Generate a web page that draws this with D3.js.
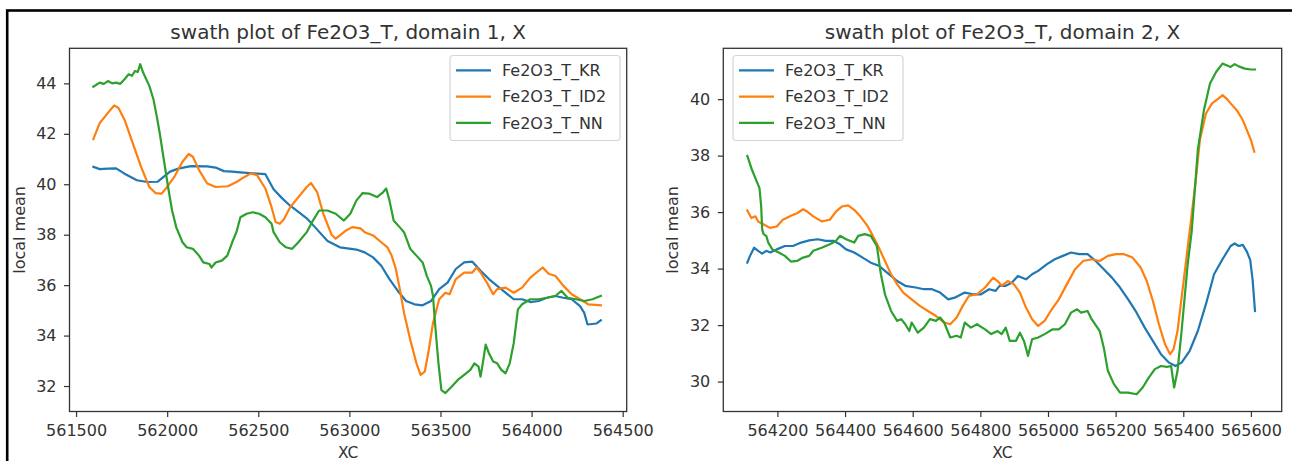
<!DOCTYPE html>
<html>
<head>
<meta charset="utf-8">
<script src="https://cdn.jsdelivr.net/npm/d3@7"></script>
<style>
  body { margin: 0; background: #fff; }
  svg text { font-family: "DejaVu Sans", sans-serif; }
</style>
</head>
<body>
<svg id="chart" width="1292" height="461"></svg>
<script>
const seriesNames = ["Fe2O3_T_KR", "Fe2O3_T_ID2", "Fe2O3_T_NN"];
const seriesColors = ["#1f77b4", "#ff7f0e", "#2ca02c"];
const titles = ["swath plot of Fe2O3_T, domain 1, X", "swath plot of Fe2O3_T, domain 2, X"];

// domain 1: [XC, local mean]
const kr1 = [[561595,40.69],[561630,40.6],[561675,40.62],[561720,40.63],[561766,40.42],[561834,40.16],[561891,40.09],[561948,40.1],[562016,40.5],[562061,40.62],[562130,40.72],[562220,40.71],[562266,40.66],[562311,40.52],[562357,40.5],[562402,40.47],[562470,40.43],[562539,40.4],[562584,39.8],[562630,39.45],[562675,39.15],[562720,38.9],[562766,38.65],[562811,38.3],[562880,37.75],[562948,37.5],[563039,37.41],[563084,37.3],[563130,37.1],[563175,36.77],[563220,36.24],[563266,35.77],[563311,35.37],[563357,35.24],[563402,35.2],[563448,35.37],[563493,35.84],[563539,36.1],[563584,36.64],[563630,36.9],[563675,36.93],[563720,36.57],[563766,36.24],[563811,35.97],[563857,35.7],[563902,35.44],[563948,35.44],[563993,35.33],[564039,35.37],[564084,35.5],[564130,35.57],[564175,35.5],[564220,35.44],[564266,35.17],[564289,34.9],[564307,34.44],[564357,34.48],[564380,34.61]];
const id1 = [[561595,41.79],[561630,42.43],[561675,42.83],[561709,43.12],[561732,43.03],[561766,42.56],[561811,41.63],[561857,40.69],[561902,39.89],[561936,39.65],[561970,39.63],[561993,39.83],[562039,40.29],[562084,40.89],[562118,41.2],[562141,41.09],[562175,40.56],[562220,40.03],[562266,39.89],[562334,39.92],[562380,40.09],[562425,40.29],[562459,40.43],[562493,40.36],[562539,39.83],[562573,39.09],[562595,38.5],[562618,38.43],[562640,38.6],[562675,39.09],[562720,39.49],[562766,39.89],[562789,40.05],[562823,39.69],[562857,38.83],[562902,38.0],[562925,37.84],[562948,37.97],[562982,38.17],[563016,38.3],[563061,38.25],[563084,38.1],[563130,37.97],[563175,37.7],[563209,37.5],[563232,37.17],[563255,36.64],[563277,35.84],[563300,34.9],[563334,33.84],[563368,32.9],[563391,32.44],[563414,32.57],[563436,33.44],[563459,34.5],[563493,35.44],[563527,35.7],[563550,35.64],[563584,36.24],[563630,36.5],[563675,36.5],[563698,36.7],[563720,36.5],[563755,36.1],[563789,35.64],[563811,35.84],[563857,35.9],[563902,35.7],[563948,35.9],[563993,36.3],[564039,36.57],[564061,36.7],[564095,36.44],[564130,36.37],[564175,35.97],[564220,35.64],[564266,35.44],[564311,35.24],[564380,35.2]];
const nn1 = [[561595,43.87],[561630,44.03],[561652,43.98],[561675,44.09],[561698,44.0],[561720,44.03],[561743,43.98],[561766,44.16],[561789,44.36],[561807,44.3],[561823,44.49],[561839,44.45],[561852,44.76],[561868,44.43],[561902,43.9],[561925,43.36],[561943,42.69],[561959,42.03],[561982,40.96],[562005,39.89],[562027,38.96],[562050,38.29],[562084,37.7],[562107,37.5],[562141,37.44],[562175,37.17],[562198,36.9],[562232,36.84],[562243,36.7],[562266,36.9],[562300,36.97],[562330,37.17],[562357,37.7],[562380,38.1],[562402,38.69],[562436,38.83],[562470,38.89],[562505,38.83],[562539,38.69],[562573,38.43],[562584,38.1],[562618,37.7],[562652,37.5],[562686,37.44],[562720,37.7],[562766,38.1],[562800,38.56],[562834,38.96],[562880,38.96],[562925,38.83],[562970,38.56],[563005,38.83],[563039,39.36],[563073,39.65],[563107,39.63],[563152,39.49],[563186,39.69],[563202,39.83],[563220,39.36],[563243,38.56],[563277,38.29],[563300,38.1],[563334,37.44],[563368,37.17],[563402,36.9],[563425,36.37],[563448,35.97],[563459,35.57],[563470,34.5],[563489,32.9],[563505,31.84],[563527,31.72],[563561,31.97],[563595,32.24],[563630,32.44],[563664,32.64],[563686,32.9],[563709,32.77],[563720,32.37],[563732,32.9],[563748,33.64],[563766,33.3],[563789,32.97],[563811,32.9],[563834,32.64],[563857,32.5],[563880,32.9],[563902,33.7],[563925,35.04],[563948,35.24],[563993,35.44],[564039,35.44],[564084,35.5],[564130,35.57],[564164,35.77],[564198,35.5],[564243,35.44],[564289,35.37],[564334,35.44],[564380,35.57]];

// domain 2
const kr2 = [[564111,34.21],[564119,34.45],[564131,34.74],[564143,34.63],[564155,34.53],[564167,34.63],[564179,34.57],[564198,34.68],[564222,34.8],[564246,34.8],[564270,34.92],[564294,35.0],[564319,35.04],[564343,34.98],[564367,34.98],[564385,34.86],[564403,34.68],[564427,34.57],[564452,34.39],[564476,34.21],[564500,34.1],[564518,33.92],[564536,33.74],[564554,33.56],[564578,33.39],[564609,33.33],[564633,33.27],[564657,33.27],[564681,33.15],[564705,32.91],[564724,32.97],[564754,33.15],[564778,33.09],[564802,33.09],[564826,33.27],[564845,33.21],[564857,33.39],[564875,33.39],[564893,33.5],[564911,33.74],[564935,33.62],[564953,33.8],[564971,33.92],[564996,34.15],[565020,34.33],[565044,34.45],[565068,34.57],[565092,34.51],[565117,34.51],[565141,34.27],[565165,33.98],[565189,33.68],[565213,33.33],[565237,32.91],[565262,32.44],[565286,31.91],[565310,31.44],[565334,30.97],[565358,30.67],[565377,30.55],[565395,30.67],[565419,31.09],[565443,31.79],[565467,32.74],[565491,33.8],[565516,34.33],[565540,34.8],[565552,34.89],[565564,34.8],[565576,34.84],[565588,34.6],[565598,34.3],[565605,33.6],[565612,32.5]];
const id2 = [[564111,36.06],[564123,35.79],[564135,35.85],[564143,35.67],[564161,35.55],[564179,35.44],[564198,35.49],[564216,35.73],[564240,35.87],[564258,35.96],[564276,36.1],[564288,36.02],[564306,35.85],[564331,35.67],[564355,35.73],[564373,36.02],[564391,36.2],[564409,36.24],[564427,36.08],[564445,35.85],[564464,35.55],[564476,35.3],[564500,34.74],[564518,34.27],[564536,33.8],[564554,33.45],[564572,33.15],[564597,32.91],[564621,32.68],[564645,32.5],[564669,32.32],[564693,32.09],[564711,32.03],[564730,32.27],[564748,32.68],[564766,33.03],[564790,33.09],[564814,33.33],[564838,33.68],[564851,33.56],[564863,33.39],[564881,33.56],[564899,33.45],[564917,33.15],[564935,32.62],[564953,32.21],[564971,31.97],[564990,32.15],[565008,32.5],[565032,32.91],[565056,33.45],[565080,33.98],[565104,34.27],[565129,34.33],[565153,34.27],[565177,34.45],[565201,34.51],[565225,34.51],[565250,34.39],[565274,34.04],[565292,33.56],[565310,32.86],[565328,32.03],[565346,31.32],[565361,30.97],[565371,31.14],[565383,31.79],[565401,33.56],[565419,35.33],[565437,37.14],[565449,38.55],[565467,39.49],[565485,39.85],[565504,40.02],[565516,40.14],[565528,40.02],[565540,39.85],[565558,39.61],[565576,39.26],[565588,38.9],[565600,38.55],[565610,38.14]];
const nn2 = [[564111,37.99],[564125,37.49],[564137,37.14],[564147,36.85],[564152,36.2],[564155,35.38],[564159,35.22],[564167,35.16],[564173,34.92],[564185,34.68],[564204,34.57],[564222,34.45],[564240,34.25],[564258,34.27],[564276,34.39],[564294,34.45],[564306,34.63],[564331,34.74],[564355,34.86],[564373,34.98],[564385,35.16],[564403,35.04],[564427,34.92],[564439,35.16],[564458,35.22],[564476,35.16],[564494,34.8],[564506,33.8],[564518,33.09],[564536,32.5],[564554,32.15],[564566,32.21],[564578,32.03],[564590,31.79],[564597,32.09],[564615,31.73],[564633,31.91],[564651,32.21],[564669,32.15],[564681,32.27],[564693,32.09],[564711,31.56],[564730,31.62],[564742,31.56],[564754,32.09],[564772,31.91],[564790,32.03],[564814,31.85],[564832,31.68],[564851,31.79],[564863,31.68],[564875,31.91],[564887,31.44],[564905,31.44],[564917,31.73],[564929,31.44],[564941,30.91],[564953,31.5],[564971,31.56],[564990,31.68],[565014,31.85],[565032,31.85],[565050,32.03],[565068,32.44],[565086,32.56],[565098,32.44],[565117,32.5],[565129,32.21],[565153,31.79],[565165,31.2],[565177,30.38],[565195,29.91],[565213,29.61],[565237,29.61],[565262,29.55],[565280,29.79],[565298,30.14],[565316,30.44],[565334,30.55],[565352,30.52],[565364,30.55],[565373,29.79],[565383,30.38],[565395,31.79],[565413,34.15],[565425,35.33],[565443,38.2],[565461,39.61],[565479,40.55],[565497,40.96],[565516,41.26],[565528,41.2],[565540,41.14],[565552,41.24],[565564,41.16],[565582,41.08],[565600,41.05],[565612,41.05]];

const xTicks1 = [561500, 562000, 562500, 563000, 563500, 564000, 564500];
const yTicks1 = [32, 34, 36, 38, 40, 42, 44];
const xTicks2 = [564200, 564400, 564600, 564800, 565000, 565200, 565400, 565600];
const yTicks2 = [30, 32, 34, 36, 38, 40];

const panels = [
    {series: [kr1, id1, nn1], title: titles[0], xTicks: xTicks1, yTicks: yTicks1,
     xDomain: [561464, 564522], yDomain: [30.99, 45.39],
     left: 69.5, right: 626.7, legendX: 450, labelX: 25},
    {series: [kr2, id2, nn2], title: titles[1], xTicks: xTicks2, yTicks: yTicks2,
     xDomain: [564040, 565691], yDomain: [28.94, 41.80],
     left: 723.3, right: 1281.7, legendX: 733, labelX: 678}
];

const plotTop = 48.3, plotBottom = 411.5;
const ink = "#333";
const svg = d3.select("#chart");

function drawPanel(p) {
    const x = d3.scaleLinear().domain(p.xDomain).range([p.left, p.right]);
    const y = d3.scaleLinear().domain(p.yDomain).range([plotBottom, plotTop]);
    const g = svg.append("g");

    const line = d3.line()
        .x(d => x(d[0]))
        .y(d => y(d[1]));

    p.series.forEach((s, i) => {
        g.append("path")
            .datum(s)
            .attr("d", line)
            .attr("fill", "none")
            .attr("stroke", seriesColors[i])
            .attr("stroke-width", 2.2)
            .attr("stroke-linejoin", "round")
            .attr("stroke-linecap", "square");
    });

    const gx = g.append("g")
        .attr("transform", `translate(0,${plotBottom})`)
        .call(d3.axisBottom(x).tickValues(p.xTicks).tickFormat(d3.format("d"))
            .tickSizeInner(5.5).tickSizeOuter(0).tickPadding(8));
    const gy = g.append("g")
        .attr("transform", `translate(${p.left},0)`)
        .call(d3.axisLeft(y).tickValues(p.yTicks).tickFormat(d3.format("d"))
            .tickSizeInner(5.5).tickSizeOuter(0).tickPadding(7.5));
    [gx, gy].forEach(a => {
        a.attr("font-family", null).attr("font-size", 16).attr("color", ink);
        a.select(".domain").remove();
        a.selectAll(".tick line").attr("stroke-width", 1.2);
    });

    // axes frame
    g.append("rect")
        .attr("x", p.left).attr("y", plotTop)
        .attr("width", p.right - p.left).attr("height", plotBottom - plotTop)
        .attr("fill", "none").attr("stroke", ink).attr("stroke-width", 1.3);

    const cx = (p.left + p.right) / 2;
    g.append("text").attr("x", cx).attr("y", 38.5)
        .attr("text-anchor", "middle").attr("font-size", 20).attr("fill", ink)
        .text(p.title);
    g.append("text").attr("x", cx).attr("y", 457.5)
        .attr("text-anchor", "middle").attr("font-size", 15.5).attr("fill", ink)
        .text("XC");
    g.append("text")
        .attr("transform", `translate(${p.labelX},${(plotTop + plotBottom) / 2}) rotate(-90)`)
        .attr("text-anchor", "middle").attr("font-size", 16).attr("fill", ink)
        .text("local mean");

    // legend
    const lg = g.append("g").attr("transform", `translate(${p.legendX},55.5)`);
    lg.append("rect")
        .attr("width", 170).attr("height", 85).attr("rx", 3)
        .attr("fill", "#fff").attr("fill-opacity", 0.8)
        .attr("stroke", "#d6d6d6").attr("stroke-width", 1.2);
    seriesNames.forEach((name, i) => {
        const ly = 14.8 + i * 26.3;
        lg.append("line")
            .attr("x1", 6).attr("x2", 41).attr("y1", ly).attr("y2", ly)
            .attr("stroke", seriesColors[i]).attr("stroke-width", 2.2);
        lg.append("text").attr("x", 52).attr("y", ly + 5.8)
            .attr("font-size", 16).attr("fill", ink)
            .text(name);
    });
}

panels.forEach(drawPanel);

// outer frame of the screenshot
svg.append("rect")
    .attr("x", 7.2).attr("y", 10.5)
    .attr("width", 1400).attr("height", 600)
    .attr("fill", "none").attr("stroke", "#000").attr("stroke-width", 2.6);
</script>
</body>
</html>
